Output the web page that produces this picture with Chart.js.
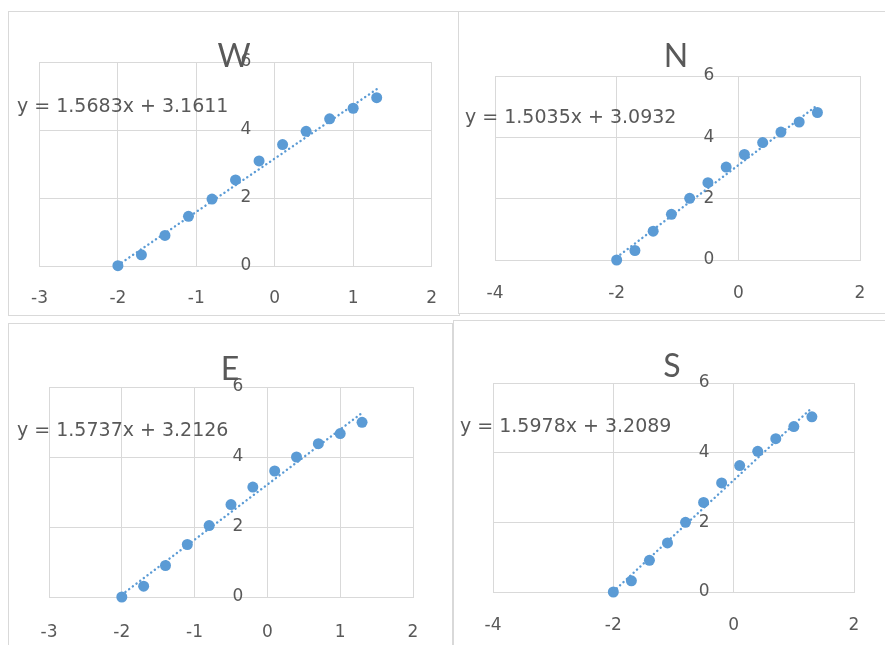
<!DOCTYPE html>
<html>
<head>
<meta charset="utf-8">
<script src="https://cdn.jsdelivr.net/npm/chart.js@4.4.1/dist/chart.umd.min.js"></script>
<style>
html, body { margin: 0; padding: 0; background: #fff; width: 885px; height: 645px; overflow: hidden; }
.panel { position: absolute; border: 1px solid #d9d9d9; background: #fff; }
.panel canvas { position: absolute; left: 0; top: 0; }
</style>
</head>
<body>
<div class="panel" style="left:8px;top:11px;width:450px;height:303px"><canvas id="c1" width="450" height="303"></canvas></div>
<div class="panel" style="left:458px;top:11px;width:435px;height:301px"><canvas id="c2" width="435" height="301"></canvas></div>
<div class="panel" style="left:8px;top:323px;width:443px;height:325px"><canvas id="c3" width="443" height="325"></canvas></div>
<div class="panel" style="left:453px;top:320px;width:437px;height:328px"><canvas id="c4" width="437" height="328"></canvas></div>
<script>
// data
const X_VALUES = [-2, -1.7, -1.4, -1.1, -0.8, -0.5, -0.2, 0.1, 0.4, 0.7, 1.0, 1.3];
const W_VALUES = [0.01, 0.33, 0.90, 1.46, 1.97, 2.53, 3.09, 3.57, 3.96, 4.33, 4.64, 4.95];
const N_VALUES = [0.00, 0.31, 0.94, 1.49, 2.01, 2.52, 3.03, 3.44, 3.83, 4.17, 4.50, 4.81];
const E_VALUES = [0.00, 0.31, 0.90, 1.50, 2.04, 2.64, 3.14, 3.60, 4.00, 4.38, 4.67, 4.99];
const S_VALUES = [0.00, 0.32, 0.91, 1.41, 2.00, 2.57, 3.13, 3.63, 4.04, 4.40, 4.75, 5.03];
const TITLES = ["W", "N", "E", "S"];
const SLOPES = [1.5683, 1.5035, 1.5737, 1.5978];
const INTERCEPTS = [3.1611, 3.0932, 3.2126, 3.2089];
const X_TICKS_A = [-3, -2, -1, 0, 1, 2];
const X_TICKS_B = [-4, -2, 0, 2];
const Y_TICKS = [0, 2, 4, 6];

const BLUE = "#5B9BD5";
const GREY = "#595959";
const GRID = "#d9d9d9";
const TICK_FONT = "DejaVu Sans";
const TITLE_FONT = "Lato";

// where things sit inside each panel
const LAYOUTS = [
  {w: 450, pad: {left: 26, top: 50, right: 24}, axisH: 49, tickPad: 22, title: [225, 45], eq: [8, 95]},
  {w: 435, pad: {left: 36, top: 64, right: 34}, axisH: 53, tickPad: 23, title: [217, 45], eq: [6, 106]},
  {w: 443, pad: {left: 40, top: 63, right: 39}, axisH: 52, tickPad: 25, title: [221, 46], eq: [8, 107]},
  {w: 437, pad: {left: 39, top: 62, right: 37}, axisH: 57, tickPad: 23, title: [218, 46], eq: [6, 106]}
];
const Y_LABEL_GAP = 24; // px between y labels and the x=0 line

const textPlugin = {
  id: "panelText",
  afterDraw(chart, args, opts) {
    const ctx = chart.ctx;
    ctx.save();
    ctx.fillStyle = GREY;
    ctx.textBaseline = "middle";
    ctx.textAlign = "center";
    ctx.font = "32px " + TITLE_FONT;
    ctx.fillText(opts.title, opts.titlePos[0], opts.titlePos[1]);
    ctx.textAlign = "left";
    ctx.font = "19px " + TICK_FONT;
    ctx.fillText(opts.eq, opts.eqPos[0], opts.eqPos[1]);
    ctx.restore();
  }
};

function makeChart(i, id, yValues, xTicks) {
  const lay = LAYOUTS[i];
  const m = SLOPES[i], b = INTERCEPTS[i];
  const x0 = X_VALUES[0], x1 = X_VALUES[X_VALUES.length - 1];
  const points = X_VALUES.map((x, k) => ({x: x, y: yValues[k]}));
  const eqText = "y = " + m.toFixed(4) + "x + " + b.toFixed(4);
  const xMin = xTicks[0], xMax = xTicks[xTicks.length - 1];
  const plotW = lay.w - lay.pad.left - lay.pad.right;
  // y labels are drawn right-aligned at the axis position, so nudge it left of 0
  const yAxisAt = -Y_LABEL_GAP * (xMax - xMin) / plotW;

  return new Chart(document.getElementById(id), {
    type: "scatter",
    data: {
      datasets: [
        {
          type: "line",
          data: [{x: x0, y: m * x0 + b}, {x: x1, y: m * x1 + b}],
          borderColor: BLUE,
          borderWidth: 2.4,
          borderDash: [0.1, 4.5],
          borderCapStyle: "round",
          pointRadius: 0,
          fill: false,
          clip: false
        },
        {
          data: points,
          backgroundColor: BLUE,
          borderColor: BLUE,
          pointRadius: 5.5,
          borderWidth: 0,
          clip: false
        }
      ]
    },
    options: {
      responsive: false,
      animation: false,
      layout: {padding: {left: lay.pad.left, top: lay.pad.top, right: lay.pad.right, bottom: 0}},
      plugins: {
        legend: {display: false},
        tooltip: {enabled: false},
        panelText: {title: TITLES[i], titlePos: lay.title, eq: eqText, eqPos: lay.eq}
      },
      scales: {
        x: {
          type: "linear",
          position: "bottom",
          min: xMin,
          max: xMax,
          afterBuildTicks: s => { s.ticks = xTicks.map(v => ({value: v})); },
          afterFit: s => { s.height = lay.axisH; },
          grid: {color: GRID, lineWidth: 1, drawTicks: false},
          border: {color: GRID},
          ticks: {color: GREY, font: {family: TICK_FONT, size: 17}, padding: lay.tickPad, maxRotation: 0}
        },
        y: {
          type: "linear",
          position: {x: yAxisAt},
          min: Y_TICKS[0],
          max: Y_TICKS[Y_TICKS.length - 1],
          afterBuildTicks: s => { s.ticks = Y_TICKS.map(v => ({value: v})); },
          grid: {color: GRID, lineWidth: 1, drawTicks: false},
          border: {display: false},
          ticks: {color: GREY, font: {family: TICK_FONT, size: 17}}
        }
      }
    },
    plugins: [textPlugin]
  });
}

makeChart(0, "c1", W_VALUES, X_TICKS_A);
makeChart(1, "c2", N_VALUES, X_TICKS_B);
makeChart(2, "c3", E_VALUES, X_TICKS_A);
makeChart(3, "c4", S_VALUES, X_TICKS_B);
</script>
</body>
</html>
